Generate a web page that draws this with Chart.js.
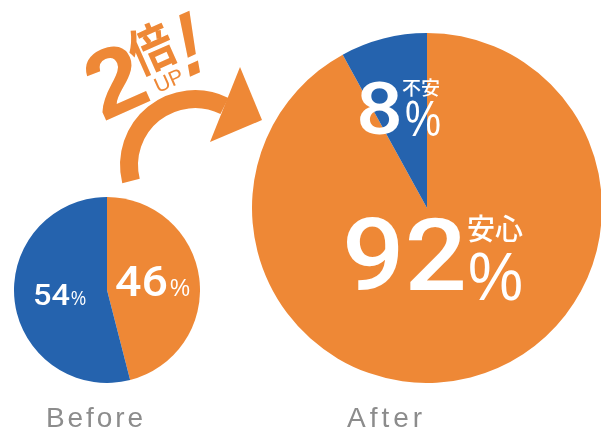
<!DOCTYPE html>
<html>
<head>
<meta charset="utf-8">
<script src="https://cdn.jsdelivr.net/npm/chart.js@4.4.0/dist/chart.umd.min.js"></script>
<style>
html, body { margin: 0; padding: 0; background: #fff; overflow: hidden; }
#wrap { position: relative; width: 601px; height: 428px; overflow: hidden; }
canvas { position: absolute; }
#beforeChart { left: 14px; top: 197px; }
#afterChart { left: 252px; top: 33px; }
#overlay { position: absolute; left: 0; top: 0; pointer-events: none; }
</style>
</head>
<body>
<div id="wrap">
<canvas id="beforeChart" width="186" height="186"></canvas>
<canvas id="afterChart" width="350" height="350"></canvas>

<svg id="overlay" width="601" height="428" xmlns="http://www.w3.org/2000/svg">
  <!-- arrow -->
  <path d="M131 181 A66 66 0 0 1 224.5 106" fill="none" stroke="#ee8836" stroke-width="18"/>
  <polygon points="240,67 262,120 210,142" fill="#ee8836"/>

  <!-- 2倍UP! -->
  <g transform="translate(103,122) rotate(-24)" fill="#ee8836">
    <text x="0" y="0" font-family="Liberation Sans" font-weight="bold" font-size="96" textLength="56" lengthAdjust="spacingAndGlyphs">2</text>
    <text x="74" y="-28" text-anchor="middle" font-family="Noto Sans CJK JP" font-weight="700" font-size="52" textLength="44" lengthAdjust="spacingAndGlyphs">倍</text>
    <text x="77" y="-4" text-anchor="middle" font-family="Liberation Sans" font-size="21" textLength="30" lengthAdjust="spacingAndGlyphs">UP</text>
    <text x="102" y="-6" text-anchor="middle" font-family="Liberation Sans" font-weight="bold" font-size="88" textLength="26" lengthAdjust="spacingAndGlyphs" transform="skewX(-14)">!</text>
  </g>

  <!-- before labels -->
  <g fill="#fff">
    <text x="33" y="305" font-family="Roboto" font-weight="500" font-size="29" textLength="37" lengthAdjust="spacingAndGlyphs">54</text>
    <text x="71" y="305" font-family="Liberation Sans" font-size="20" textLength="15" lengthAdjust="spacingAndGlyphs">%</text>
    <text x="115" y="296" font-family="Roboto" font-weight="500" font-size="42" textLength="53" lengthAdjust="spacingAndGlyphs">46</text>
    <text x="170" y="296" font-family="Liberation Sans" font-size="23" textLength="20" lengthAdjust="spacingAndGlyphs">%</text>

    <!-- after labels -->
    <text x="356" y="134" font-family="Roboto" font-weight="500" font-size="72" textLength="47" lengthAdjust="spacingAndGlyphs">8</text>
    <text x="402" y="95" font-family="Noto Sans CJK JP" font-weight="500" font-size="19" textLength="38" lengthAdjust="spacingAndGlyphs">不安</text>
    <text x="405" y="136" font-family="Liberation Sans" font-size="50" textLength="36" lengthAdjust="spacingAndGlyphs">%</text>
    <text x="342" y="290" font-family="Roboto" font-weight="500" font-size="101" textLength="125" lengthAdjust="spacingAndGlyphs">92</text>
    <text x="467" y="240" font-family="Noto Sans CJK JP" font-weight="500" font-size="29" textLength="56" lengthAdjust="spacingAndGlyphs">安心</text>
    <text x="468" y="300" font-family="Liberation Sans" font-size="69" textLength="55" lengthAdjust="spacingAndGlyphs">%</text>
  </g>

  <!-- captions -->
  <g fill="#8c8c8c" font-family="Liberation Sans" font-size="28">
    <text x="46" y="427" textLength="97" lengthAdjust="spacing">Before</text>
    <text x="347" y="427" textLength="75" lengthAdjust="spacing">After</text>
  </g>
</svg>
</div>

<script>

const sliceLabels = ["安心", "不安"];
const beforeValues = [46, 54];
const afterValues = [92, 8];
const sliceColors = ["#ee8836", "#2563ae"];


/* Pie Setup */

function makePie(id, values){

return new Chart(document.getElementById(id).getContext("2d"), {
type: "pie",
data: {
labels: sliceLabels,
datasets: [{
data: values,
backgroundColor: sliceColors,
borderWidth: 0
}]
},
options: {
responsive: false,
animation: false,
layout: { padding: 0 },
plugins: {
legend: { display: false },
tooltip: { enabled: false }
}
}
});

}

makePie("beforeChart", beforeValues);
makePie("afterChart", afterValues);

</script>
</body>
</html>
